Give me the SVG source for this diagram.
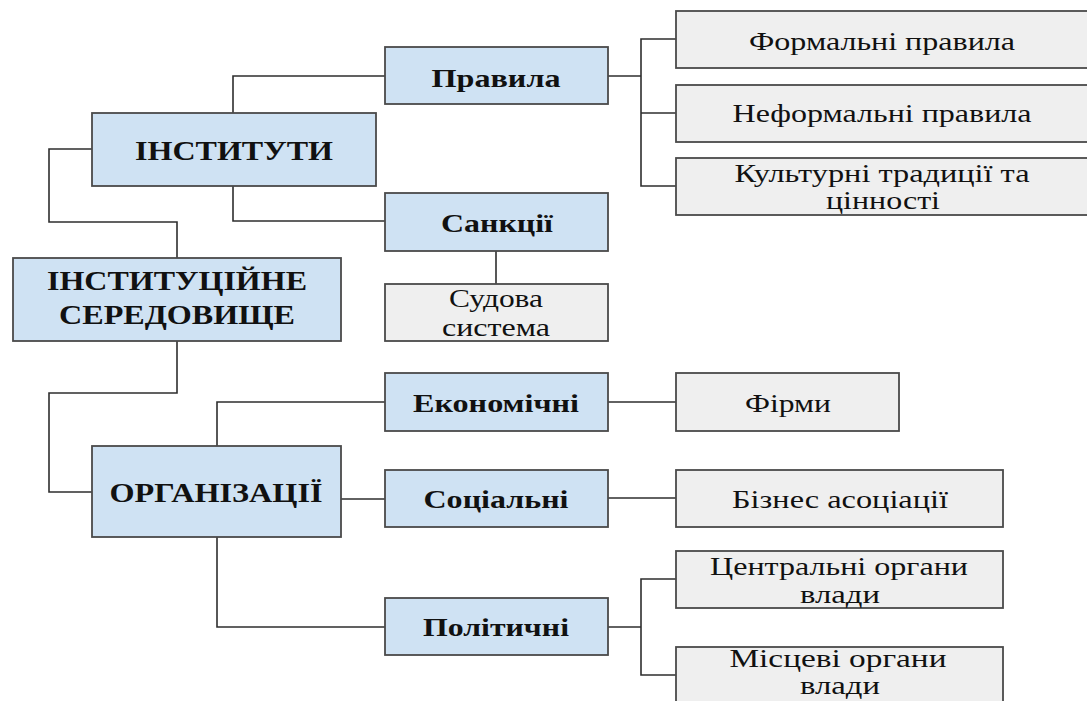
<svg xmlns="http://www.w3.org/2000/svg" width="1087" height="701" viewBox="0 0 1087 701">
  <style>
    .blue { fill: #cfe2f3; stroke: #4a4a4a; stroke-width: 1.8; }
    .grey { fill: #efefef; stroke: #4a4a4a; stroke-width: 1.8; }
    .wire { fill: none; stroke: #2e2e2e; stroke-width: 1.6; }
    text { font-family: "Times New Roman", "Liberation Serif", Tinos, "DejaVu Serif", serif; fill: #111; text-anchor: middle; }
    .h1 { font-size: 27px; font-weight: bold; }
    .h2 { font-size: 25px; font-weight: bold; }
    .t { font-size: 26px; }
  </style>
  <rect width="1087" height="701" fill="#ffffff"/>

  <!-- connectors -->
  <g id="connectors">
    <!-- ІНСТИТУТИ / ІНСТИТУЦІЙНЕ СЕРЕДОВИЩЕ / ОРГАНІЗАЦІЇ spine -->
    <polyline class="wire" points="92,149 49,149 49,222 177,222 177,258"/>
    <polyline class="wire" points="177,341 177,393 49,393 49,492 92,492"/>
    <!-- ІНСТИТУТИ to Правила and Санкції -->
    <polyline class="wire" points="233,113 233,76 385,76"/>
    <polyline class="wire" points="233,186 233,221 385,221"/>
    <!-- Правила to its three rule types -->
    <line class="wire" x1="608" y1="76" x2="641" y2="76"/>
    <polyline class="wire" points="676,39 641,39 641,186 676,186"/>
    <line class="wire" x1="641" y1="113" x2="676" y2="113"/>
    <!-- Санкції to Судова система -->
    <line class="wire" x1="496" y1="251" x2="496" y2="284"/>
    <!-- ОРГАНІЗАЦІЇ to its three kinds -->
    <polyline class="wire" points="217,446 217,402 385,402"/>
    <line class="wire" x1="341" y1="499" x2="385" y2="499"/>
    <polyline class="wire" points="217,537 217,627 385,627"/>
    <!-- kinds to examples -->
    <line class="wire" x1="608" y1="402" x2="676" y2="402"/>
    <line class="wire" x1="608" y1="498" x2="676" y2="498"/>
    <line class="wire" x1="608" y1="627" x2="641" y2="627"/>
    <polyline class="wire" points="676,579 641,579 641,675 676,675"/>
  </g>

  <!-- main levels -->
  <g id="institutions">
    <rect class="blue" x="92" y="113" width="284" height="73"/>
    <text class="h1" x="234" y="160" textLength="198" lengthAdjust="spacingAndGlyphs">ІНСТИТУТИ</text>
  </g>
  <g id="environment">
    <rect class="blue" x="13" y="258" width="328" height="83"/>
    <text class="h1" x="177" y="290" textLength="260" lengthAdjust="spacingAndGlyphs">ІНСТИТУЦІЙНЕ</text>
    <text class="h1" x="177" y="324" textLength="236" lengthAdjust="spacingAndGlyphs">СЕРЕДОВИЩЕ</text>
  </g>
  <g id="organizations">
    <rect class="blue" x="92" y="446" width="249" height="91"/>
    <text class="h1" x="216" y="502" textLength="213" lengthAdjust="spacingAndGlyphs">ОРГАНІЗАЦІЇ</text>
  </g>

  <!-- second level -->
  <g id="rules">
    <rect class="blue" x="385" y="47" width="223" height="57"/>
    <text class="h2" x="496" y="87" textLength="129" lengthAdjust="spacingAndGlyphs">Правила</text>
  </g>
  <g id="sanctions">
    <rect class="blue" x="385" y="193" width="223" height="58"/>
    <text class="h2" x="497" y="232" textLength="112" lengthAdjust="spacingAndGlyphs">Санкції</text>
  </g>
  <g id="economic">
    <rect class="blue" x="385" y="373" width="223" height="58"/>
    <text class="h2" x="496" y="412" textLength="166" lengthAdjust="spacingAndGlyphs">Економічні</text>
  </g>
  <g id="social">
    <rect class="blue" x="385" y="470" width="223" height="57"/>
    <text class="h2" x="496" y="508" textLength="145" lengthAdjust="spacingAndGlyphs">Соціальні</text>
  </g>
  <g id="political">
    <rect class="blue" x="385" y="598" width="223" height="57"/>
    <text class="h2" x="496" y="636" textLength="146" lengthAdjust="spacingAndGlyphs">Політичні</text>
  </g>

  <!-- examples -->
  <g id="formal-rules">
    <rect class="grey" x="676" y="11" width="420" height="57"/>
    <text class="t" x="882" y="50" textLength="266" lengthAdjust="spacingAndGlyphs">Формальні правила</text>
  </g>
  <g id="informal-rules">
    <rect class="grey" x="676" y="85" width="420" height="57"/>
    <text class="t" x="882" y="122" textLength="299" lengthAdjust="spacingAndGlyphs">Неформальні правила</text>
  </g>
  <g id="traditions">
    <rect class="grey" x="676" y="158" width="420" height="57"/>
    <text class="t" x="882" y="182" textLength="295" lengthAdjust="spacingAndGlyphs">Культурні традиції та</text>
    <text class="t" x="883" y="209" textLength="114" lengthAdjust="spacingAndGlyphs">цінності</text>
  </g>
  <g id="courts">
    <rect class="grey" x="385" y="284" width="223" height="57"/>
    <text class="t" x="496" y="307" textLength="94" lengthAdjust="spacingAndGlyphs">Судова</text>
    <text class="t" x="496" y="336" textLength="108" lengthAdjust="spacingAndGlyphs">система</text>
  </g>
  <g id="firms">
    <rect class="grey" x="676" y="373" width="223" height="58"/>
    <text class="t" x="788" y="412" textLength="86" lengthAdjust="spacingAndGlyphs">Фірми</text>
  </g>
  <g id="business-associations">
    <rect class="grey" x="676" y="470" width="327" height="57"/>
    <text class="t" x="840" y="508" textLength="216" lengthAdjust="spacingAndGlyphs">Бізнес асоціації</text>
  </g>
  <g id="central-government">
    <rect class="grey" x="676" y="551" width="327" height="57"/>
    <text class="t" x="839" y="575" textLength="258" lengthAdjust="spacingAndGlyphs">Центральні органи</text>
    <text class="t" x="840" y="603" textLength="80" lengthAdjust="spacingAndGlyphs">влади</text>
  </g>
  <g id="local-government">
    <rect class="grey" x="676" y="647" width="327" height="70"/>
    <text class="t" x="838" y="667" textLength="217" lengthAdjust="spacingAndGlyphs">Місцеві органи</text>
    <text class="t" x="840" y="694" textLength="80" lengthAdjust="spacingAndGlyphs">влади</text>
  </g>
</svg>
